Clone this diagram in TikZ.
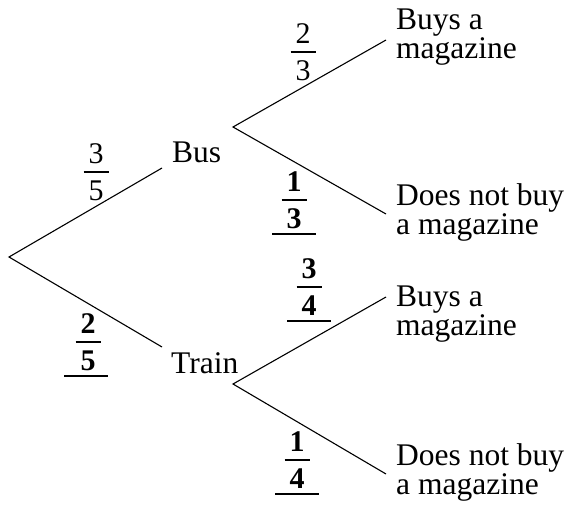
\documentclass[tikz,border=0pt]{standalone}
\usepackage{fontspec}
\setmainfont{Liberation Serif}
\newcommand\myfrac[6]{%
  \node[#6] (#1n) at (#2,#3-9) {#4};
  \node[#6] (#1d) at (#2,#3+28) {#5};
  \draw[fbar] (#2-12.5,#3) -- (#2+12.5,#3);
}
\newcommand\myuline[2]{\draw[fbar] (#1-22,#2+34) -- (#1+22,#2+34);}
\begin{document}
\begin{tikzpicture}[x=1pt,y=-1pt,
  branch/.style={line width=1.1pt},
  lbl/.style={inner sep=0pt, anchor=base west, font=\fontsize{31.5}{26}\selectfont, align=left},
  fr/.style={inner sep=0pt, anchor=base, font=\fontsize{30}{30}\selectfont},
  bfr/.style={fr, font=\fontsize{30}{30}\selectfont\bfseries},
  fbar/.style={line width=1.2pt}]
\useasboundingbox (0,0) rectangle (569,514);
% tree points
\coordinate (root) at (9,257);
\coordinate (busend) at (162,168);
\coordinate (trainend) at (162,347);
\coordinate (busb) at (233,127);
\coordinate (trainb) at (233,384);
\coordinate (bb1) at (386,40);
\coordinate (bb2) at (386,214);
\coordinate (tb1) at (386,297);
\coordinate (tb2) at (386,474);
\draw[branch] (busend) -- (root) -- (trainend);
\draw[branch] (bb1) -- (busb) -- (bb2);
\draw[branch] (tb1) -- (trainb) -- (tb2);
% labels (anchor = baseline of the last line)
\node[lbl] (bus) at (172,162) {Bus};
\node[lbl] (train) at (171,373) {Train};
\node[lbl] (bm1) at (396,58) {Buys a\\magazine};
\node[lbl] (bm2) at (396,234) {Does not buy\\a magazine};
\node[lbl] (tm1) at (396,335) {Buys a\\magazine};
\node[lbl] (tm2) at (396,494) {Does not buy\\a magazine};
% fractions
\myfrac{f35}{96}{172}{3}{5}{fr}
\myfrac{f25}{88}{342}{2}{5}{bfr}
\myuline{86}{342}
\myfrac{f23}{303}{52}{2}{3}{fr}
\myfrac{f13}{294}{200}{1}{3}{bfr}
\myuline{294}{200}
\myfrac{f34}{309}{287}{3}{4}{bfr}
\myuline{309}{287}
\myfrac{f14}{297}{460}{1}{4}{bfr}
\myuline{297}{460}
\end{tikzpicture}
\end{document}
